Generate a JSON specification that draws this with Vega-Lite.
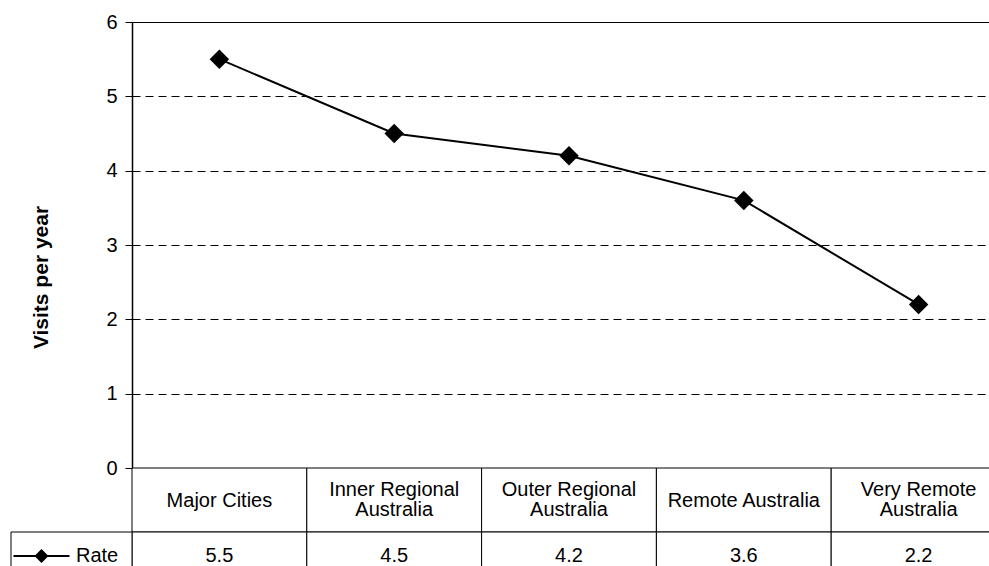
{
  "$schema": "https://vega.github.io/schema/vega-lite/v6.json",
  "padding": {"left": 9, "top": 12, "right": 0, "bottom": 0},
  "background": "white",
  "config": {
    "view": {"stroke": null},
    "font": "Liberation Sans",
    "text": {"font": "Liberation Sans", "color": "black"}
  },
  "datasets": {
    "rates": [
      {"region": "Major Cities", "rate": 5.5, "series": "Rate"},
      {"region": "Inner Regional\nAustralia", "rate": 4.5, "series": "Rate"},
      {"region": "Outer Regional\nAustralia", "rate": 4.2, "series": "Rate"},
      {"region": "Remote Australia", "rate": 3.6, "series": "Rate"},
      {"region": "Very Remote\nAustralia", "rate": 2.2, "series": "Rate"}
    ]
  },
  "spacing": 0,
  "bounds": "flush",
  "vconcat": [
    {
      "width": 874,
      "height": 446,
      "data": {"name": "rates"},
      "encoding": {
        "x": {"field": "region", "type": "nominal", "sort": null, "scale": {"type": "point", "padding": 0.5}, "axis": null},
        "y": {
          "field": "rate",
          "type": "quantitative",
          "scale": {"domain": [0, 6], "nice": false},
          "axis": {
            "title": "Visits per year",
            "values": [0, 1, 2, 3, 4, 5, 6],
            "grid": true,
            "gridColor": "black",
            "gridWidth": 1,
            "gridDash": {"condition": {"test": "datum.value === 6", "value": []}, "value": [8, 5]},
            "domainColor": "black",
            "domainWidth": 1.5,
            "tickColor": "black",
            "tickSize": 7,
            "labelPadding": 8,
            "labelFont": "Liberation Sans",
            "labelFontSize": 20,
            "labelColor": "black",
            "titleFont": "Liberation Sans",
            "titleFontSize": 21,
            "titleFontWeight": "bold",
            "titleColor": "black",
            "titlePadding": 54,
            "titleY": 255
          }
        }
      },
      "layer": [
        {"mark": {"type": "line", "color": "black", "strokeWidth": 2}},
        {"mark": {"type": "point", "shape": "diamond", "filled": true, "color": "black", "size": 380, "opacity": 1}}
      ]
    },
    {
      "width": 874,
      "height": 64,
      "data": {"name": "rates"},
      "encoding": {
        "x": {"field": "region", "type": "nominal", "sort": null, "scale": {"type": "band", "paddingInner": 0, "paddingOuter": 0}, "axis": null}
      },
      "layer": [
        {"mark": {"type": "rect", "fill": "white", "stroke": "black", "strokeWidth": 1}},
        {
          "mark": {
            "type": "text",
            "fontSize": 20,
            "lineBreak": "\n",
            "lineHeight": 20.5,
            "dy": {"expr": "indexof(datum.region, '\\n') >= 0 ? -10.5 : 1"},
            "color": "black"
          },
          "encoding": {"text": {"field": "region"}}
        }
      ]
    },
    {
      "width": 874,
      "height": 44,
      "data": {"name": "rates"},
      "layer": [
        {
          "mark": {"type": "rect", "fill": "white", "stroke": "black", "strokeWidth": 1},
          "encoding": {
            "x": {"field": "region", "type": "nominal", "sort": null, "scale": {"type": "band", "paddingInner": 0, "paddingOuter": 0}, "axis": null}
          }
        },
        {
          "mark": {"type": "text", "fontSize": 20, "color": "black", "dy": 2},
          "encoding": {
            "x": {"field": "region", "type": "nominal", "sort": null, "scale": {"type": "band", "paddingInner": 0, "paddingOuter": 0}, "axis": null},
            "text": {"field": "rate", "type": "quantitative", "format": ".1f"}
          }
        },
        {
          "transform": [{"aggregate": [{"op": "count", "as": "n"}], "groupby": ["series"]}],
          "layer": [
            {
              "mark": {"type": "rect", "fill": "white", "stroke": "black", "strokeWidth": 1}
            },
            {
              "mark": {
                "type": "point",
                "shape": "M-1,0L1,0M-0.2,0L0,-0.2L0.2,0L0,0.2Z",
                "size": 3136,
                "fill": "black",
                "stroke": "black",
                "strokeWidth": 2,
                "opacity": 1,
                "xOffset": -30,
                "yOffset": 2
              }
            },
            {
              "mark": {"type": "text", "fontSize": 20, "align": "left", "xOffset": 4.5, "dy": 2, "color": "black"},
              "encoding": {"text": {"field": "series"}}
            }
          ],
          "encoding": {
            "x": {"field": "series", "type": "nominal", "scale": {"type": "band", "range": [-121, 0], "paddingInner": 0, "paddingOuter": 0}, "axis": null}
          }
        }
      ],
      "resolve": {"scale": {"x": "independent"}}
    }
  ]
}
